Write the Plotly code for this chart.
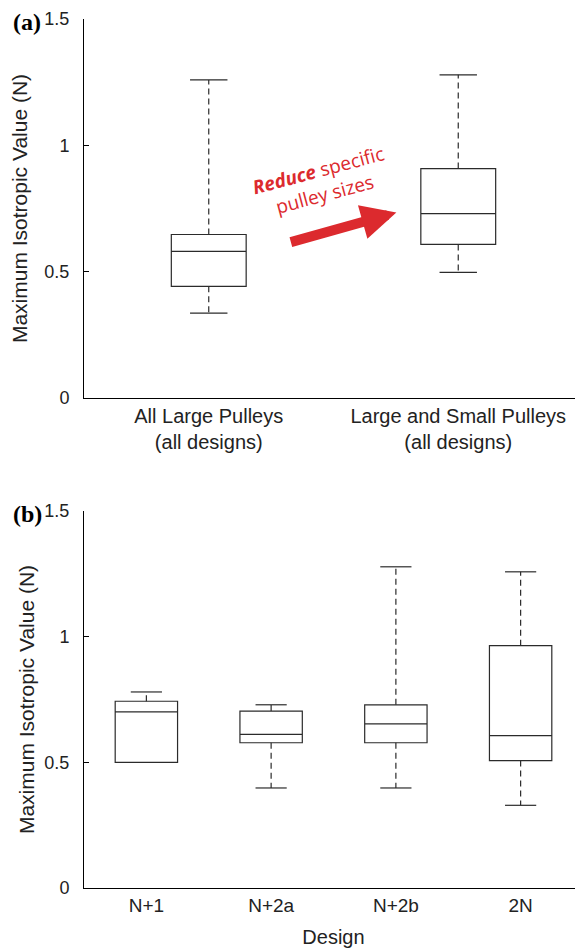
import plotly.graph_objects as go

# ---- Panel (a) data ----
a_labels = ["All Large Pulleys<br>(all designs)", "Large and Small Pulleys<br>(all designs)"]
a_lower = [0.336, 0.497]
a_q1 = [0.442, 0.608]
a_median = [0.580, 0.730]
a_q3 = [0.647, 0.908]
a_upper = [1.259, 1.279]

# ---- Panel (b) data ----
b_labels = ["N+1", "N+2a", "N+2b", "2N"]
b_lower = [0.500, 0.398, 0.398, 0.329]
b_q1 = [0.500, 0.578, 0.578, 0.507]
b_median = [0.701, 0.611, 0.653, 0.606]
b_q3 = [0.743, 0.704, 0.729, 0.964]
b_upper = [0.780, 0.729, 1.278, 1.258]

y_ticks = [0, 0.5, 1, 1.5]
y_ticktext = ["0", "0.5", "1", "1.5"]

BOXCOL = "#2b2b2b"
FONT = "Liberation Sans, Arial, sans-serif"

fig = go.Figure()


def add_panel(xref, yref, lower, q1, med, q3, upper, width):
    pos = list(range(1, len(q1) + 1))
    fig.add_trace(go.Box(
        x=pos, q1=q1, median=med, q3=q3, lowerfence=q1, upperfence=q3,
        width=width, fillcolor="rgba(0,0,0,0)",
        line=dict(color=BOXCOL, width=1.2),
        xaxis=xref, yaxis=yref, showlegend=False, hoverinfo="skip",
        boxpoints=False,
    ))
    wx, wy, cx, cy = [], [], [], []
    for p, lo, a, b, hi in zip(pos, lower, q1, q3, upper):
        if hi > b:
            wx += [p, p, None]
            wy += [b, hi, None]
            cx += [p - width / 4, p + width / 4, None]
            cy += [hi, hi, None]
        if lo < a:
            wx += [p, p, None]
            wy += [a, lo, None]
            cx += [p - width / 4, p + width / 4, None]
            cy += [lo, lo, None]
    fig.add_trace(go.Scatter(x=wx, y=wy, mode="lines",
                             line=dict(color=BOXCOL, width=1.2, dash="6px,4px"),
                             xaxis=xref, yaxis=yref, showlegend=False, hoverinfo="skip"))
    fig.add_trace(go.Scatter(x=cx, y=cy, mode="lines",
                             line=dict(color=BOXCOL, width=1.2),
                             xaxis=xref, yaxis=yref, showlegend=False, hoverinfo="skip"))


add_panel("x", "y", a_lower, a_q1, a_median, a_q3, a_upper, 0.3)
add_panel("x2", "y2", b_lower, b_q1, b_median, b_q3, b_upper, 0.5)

axis_common = dict(showline=True, linecolor="black", linewidth=1, showgrid=False,
                   zeroline=False)

PH = 869
top_bottom = 1 - 379 / PH
b_top = 1 - 492 / PH

fig.update_layout(
    width=575, height=940,
    margin=dict(l=76, r=0, t=11, b=60),
    paper_bgcolor="white", plot_bgcolor="white",
    font=dict(family=FONT, color="#222"),
    xaxis=dict(domain=[0, 1], anchor="y", range=[0.5, 2.5], tickvals=[1, 2], ticktext=a_labels,
               ticks="", tickfont=dict(family=FONT, size=20, color="#222"), **axis_common),
    yaxis=dict(domain=[top_bottom, 1], anchor="x", range=[0, 1.5], tickvals=y_ticks, ticktext=y_ticktext,
               ticks="inside", ticklen=5, tickcolor="black", ticklabelstandoff=10,
               tickfont=dict(family=FONT, size=18, color="#222"),
               title=dict(text="Maximum Isotropic Value (N)", font=dict(family=FONT, size=21), standoff=16),
               **axis_common),
    xaxis2=dict(domain=[0, 1], anchor="y2", range=[0.5, 4.5], tickvals=[1, 2, 3, 4], ticktext=b_labels,
                ticks="", tickfont=dict(family=FONT, size=19, color="#222"),
                title=dict(text="Design", font=dict(family=FONT, size=20), standoff=15),
                **axis_common),
    yaxis2=dict(domain=[0, b_top], anchor="x2", range=[0, 1.5], tickvals=y_ticks, ticktext=y_ticktext,
                ticks="inside", ticklen=5, tickcolor="black", ticklabelstandoff=10,
                tickfont=dict(family=FONT, size=18, color="#222"),
                title=dict(text="Maximum Isotropic Value (N)", font=dict(family=FONT, size=21), standoff=4),
                **axis_common),
)

# panel labels
for lab, yy in (("<b>(a)</b>", 1.0), ("<b>(b)</b>", b_top)):
    fig.add_annotation(text=lab, xref="paper", yref="paper", x=-76 / 499, y=yy,
                       xanchor="left", yanchor="middle", showarrow=False,
                       font=dict(family="Liberation Serif, Times New Roman, serif", size=24, color="black"),
                       xshift=3, yshift=-3)

RED = "#dc2a2e"
# arrow
fig.add_annotation(x=1.752, y=0.734, xref="x", yref="y", text="", showarrow=True,
                   ax=-107, ay=30, arrowhead=2, arrowsize=0.7, arrowwidth=10, arrowcolor=RED)
# arrow text
fig.add_annotation(x=1.45, y=0.853, xref="x", yref="y", showarrow=False,
                   text="<b><i>Reduce</i></b> specific<br>pulley sizes", textangle=-15,
                   font=dict(family="Open Sans, Lato, sans-serif", size=19, color=RED))

fig.write_html("out.html")
